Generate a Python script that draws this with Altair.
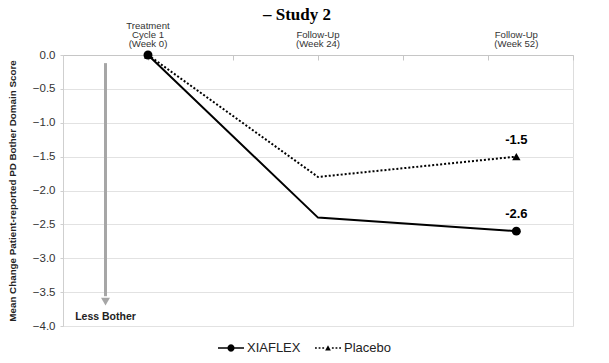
import altair as alt
import pandas as pd

# ---- data ----
weeks = [0, 24, 52]
xiaflex = [0.0, -2.4, -2.6]
placebo = [0.0, -1.8, -1.5]
series_names = ["XIAFLEX", "Placebo"]
timepoint_labels = [["Treatment", "Cycle 1", "(Week 0)"], ["Follow-Up", "(Week 24)"], ["Follow-Up", "(Week 52)"]]
marker_weeks = [0, 52]
y_ticks = [0.0, -0.5, -1.0, -1.5, -2.0, -2.5, -3.0, -3.5, -4.0]
x_ticks = [-12, 0, 12, 24, 36, 48, 60]
arrow_week = -6
arrow_top, arrow_bottom, arrow_head = -0.12, -3.56, -3.64
arrow_text = "Less Bother"
arrow_text_y = -3.86
y_title = "Mean Change Patient-reported  PD Bother Domain Score"

rows = []
for name, vals in zip(series_names, [xiaflex, placebo]):
    for w, v in zip(weeks, vals):
        rows.append({"series": name, "week": w, "value": v})
df = pd.DataFrame(rows)
df_end = df[df.week == weeks[-1]].copy()
df_end["label"] = df_end["value"].map(lambda v: f"{v:.1f}")

lab_rows = []
for w, lines_ in zip(weeks, timepoint_labels):
    n = len(lines_)
    for i, t in enumerate(lines_):
        lab_rows.append({"week": w, "value": 0.0, "label": t, "k": n - 1 - i})
df_labels = pd.DataFrame(lab_rows)

df_arrow = pd.DataFrame({"week": [arrow_week], "top": [arrow_top], "bottom": [arrow_bottom],
                         "head": [arrow_head], "ty": [arrow_text_y], "txt": [arrow_text]})

xs = alt.Scale(domain=[-12, 60], nice=False, zero=False)
ys = alt.Scale(domain=[-4, 0], nice=False, zero=False)


def qx(f="week"):
    return alt.X(f"{f}:Q", scale=xs,
                 axis=alt.Axis(orient="bottom", offset=-271, values=x_ticks, labels=False, title=None,
                               grid=False, domainColor="#c6c6c6", tickColor="#c6c6c6", tickSize=5,
                               domainWidth=1))


def qy(f="value"):
    return alt.Y(f"{f}:Q", scale=ys,
                 axis=alt.Axis(values=y_ticks, format=".1f", grid=True, gridColor="#e2e2e2",
                               domainColor="#cfcfcf", tickColor="#cfcfcf", tickSize=3, labelPadding=5,
                               labelFontSize=11.5, labelFont="Liberation Sans", labelColor="#333333",
                               labelOverlap=False, title=y_title,
                               titleFont="Liberation Sans", titleFontSize=9.8, titleFontWeight="bold",
                               titleColor="#222222", titleX=-51, titleY=135.5, titleAngle=-90,
                               titleAlign="center", titleBaseline="middle"))


base = alt.Chart(df)

line_x = base.transform_filter(alt.datum.series == series_names[0]).mark_line(
    color="black", strokeWidth=2).encode(x=qx(), y=qy())
line_p = base.transform_filter(alt.datum.series == series_names[1]).mark_line(
    color="black", strokeWidth=2, strokeDash=[2, 2]).encode(x=qx(), y=qy())

mk = base.transform_filter(alt.FieldOneOfPredicate(field="week", oneOf=marker_weeks))
tri = mk.transform_filter(alt.datum.series == series_names[1]).mark_point(
    shape="triangle-up", filled=True, color="black", size=70, opacity=1).encode(x=qx(), y=qy())
circ = mk.transform_filter(alt.datum.series == series_names[0]).mark_point(
    shape="circle", filled=True, color="black", size=80, opacity=1).encode(x=qx(), y=qy())

end_text = alt.Chart(df_end).mark_text(font="Liberation Sans", fontSize=13, fontWeight="bold",
                                        color="black", dy=-17).encode(x=qx(), y=qy(), text="label:N")

label_layers = []
for k in range(3):
    label_layers.append(
        alt.Chart(df_labels).transform_filter(alt.datum.k == k).mark_text(
            font="Liberation Sans", fontSize=9.6, color="#333333", baseline="alphabetic", dy=-8 - 9 * k
        ).encode(x=qx(), y=qy(), text="label:N"))

arrow_line = alt.Chart(df_arrow).mark_rule(color="#a6a6a6", strokeWidth=3).encode(
    x=qx(), y=qy("top"), y2="bottom:Q")
arrow_tip = alt.Chart(df_arrow).mark_point(shape="triangle-down", filled=True, color="#a6a6a6",
                                           size=80, opacity=1).encode(x=qx(), y=qy("head"))
arrow_lbl = alt.Chart(df_arrow).mark_text(font="Liberation Sans", fontSize=10.5, fontWeight="bold",
                                          color="#222222").encode(x=qx(), y=qy("ty"), text="txt:N")

# legend symbols: line + marker drawn as filled shapes (style constants in unit-square coordinates)
h = 0.065


def bar(a, b):
    return f"M{a},{-h}L{b},{-h}L{b},{h}L{a},{h}Z"


circle_pts = [(0.28, 0), (0.2425, 0.14), (0.14, 0.2425), (0, 0.28), (-0.14, 0.2425), (-0.2425, 0.14),
              (-0.28, 0), (-0.2425, -0.14), (-0.14, -0.2425), (0, -0.28), (0.14, -0.2425), (0.2425, -0.14)]
path_x = bar(-1, 1) + "M" + "L".join(f"{a},{b}" for a, b in circle_pts) + "Z"
dot_starts = [-1.0, -0.72, -0.44, 0.30, 0.58, 0.86]
path_p = "".join(bar(s, round(s + 0.14, 2)) for s in dot_starts) + "M-0.22,0.19L0.22,0.19L0,-0.21Z"

legend_layer = base.transform_filter(alt.datum.week == 0).mark_point(
    filled=True, color="black", size=1, opacity=1
).encode(
    x=qx(), y=qy(),
    shape=alt.Shape("series:N", scale=alt.Scale(domain=series_names, range=[path_x, path_p]),
                    legend=alt.Legend(title=None, orient="none", legendX=154, legendY=279,
                                      direction="horizontal", symbolSize=676, labelFontSize=13,
                                      labelFont="Liberation Sans", labelColor="#222222",
                                      symbolFillColor="black", symbolOpacity=1, columnPadding=11,
                                      labelOffset=2, padding=0)),
)

chart = alt.layer(arrow_line, arrow_tip, arrow_lbl, line_p, line_x, tri, circ, end_text, *label_layers,
                  legend_layer).properties(
    width=510, height=271,
    title=alt.TitleParams("– Study 2", font="Liberation Serif", fontSize=17, fontWeight="bold",
                          color="black", anchor="middle", dx=-21, dy=7),
    padding={"left": 55, "top": 47, "right": 28, "bottom": 29},
    autosize=alt.AutoSizeParams(type="none"),
).configure_view(stroke="transparent", strokeWidth=0, strokeOpacity=0).configure(background="white")

chart.save("out.html", embed_options={"renderer": "svg", "actions": False})
